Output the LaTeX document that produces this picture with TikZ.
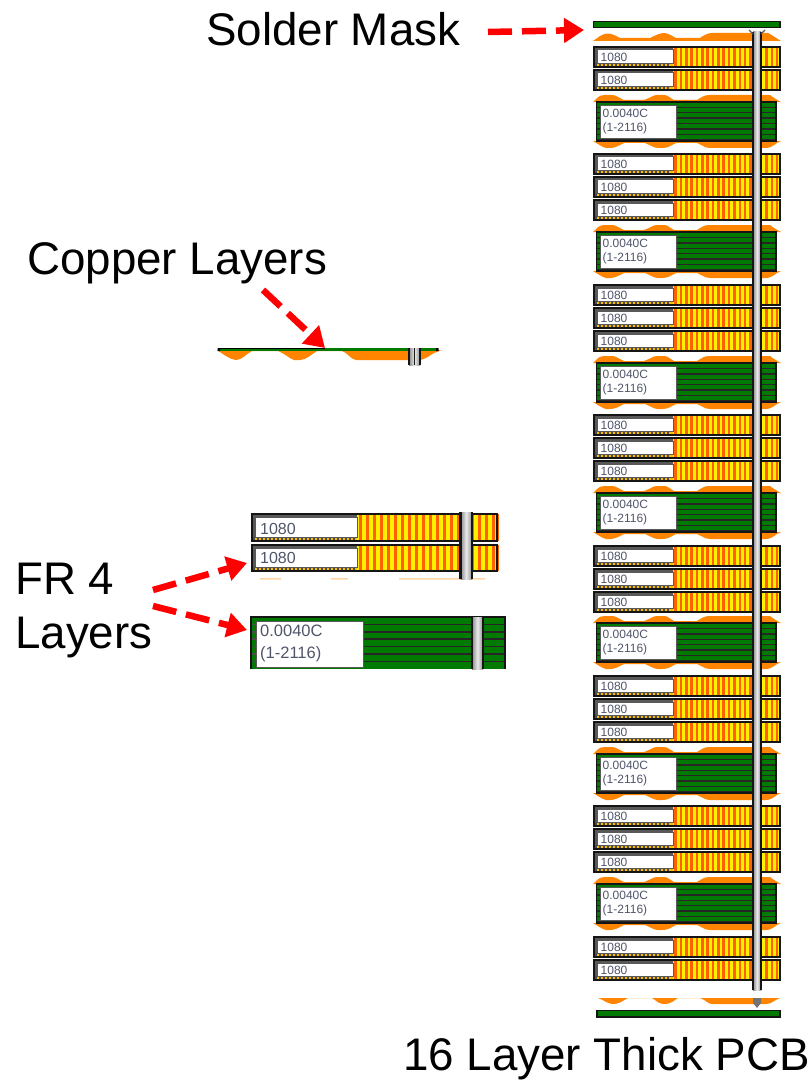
\documentclass[tikz,border=0pt]{standalone}
\usepackage{fontspec}
\setmainfont{Liberation Sans}
\usetikzlibrary{arrows.meta}
\definecolor{pcbgreen}{HTML}{007A00}
\definecolor{pcborange}{HTML}{FF8400}
\definecolor{pcbstripe}{HTML}{FF6000}
\definecolor{pcbyellow}{HTML}{FFF000}
\definecolor{pcbtext}{HTML}{50566A}
\definecolor{pcbedge}{HTML}{151515}
\tikzset{
  bigtext/.style={font=\fontsize{45.7}{54}\selectfont,text=black,inner sep=0pt,anchor=west},
  redarrow/.style={draw=red,line width=6.5pt,dash pattern=on 24pt off 10pt,-{Triangle[length=20pt,width=24pt,fill=red]}},
  boxedge/.style={draw=pcbedge,line width=1.4pt},
  labelbox/.style={draw=black!65,line width=.7pt,fill=white,inner sep=0pt,anchor=north west},
  smalltext/.style={font=\fontsize{12}{14}\selectfont,text=pcbtext,inner sep=0pt,anchor=west,align=left},
  midtext/.style={font=\fontsize{16.5}{21}\selectfont,text=pcbtext,inner sep=0pt,anchor=west,align=left},
}
% \prepreg{name}{x0}{y0}{x1}{y1}{box right}{box bottom}{stripe pitch}{stripe width}
\newcommand{\prepreg}[9]{%
  \fill[pcbyellow] (#2,#3) rectangle (#4,#5);
  \pgfmathsetmacro{\stripenext}{#6+#8}
  \foreach \sx in {#6,\stripenext,...,#4}{\fill[pcbstripe] (\sx+#8*.25,#3) rectangle ({min(\sx+#8*.25+#9,#4)},#5);}
  \fill[black!65] (#2,#3) rectangle (#6,#5);
  \fill[pcbyellow!55!orange] (#2+1,#7) rectangle (#6,#5-1);
  \foreach \sx in {0,4,...,108}{\pgfmathparse{(#2+\sx<#6-3)?1:0}\ifdim\pgfmathresult pt>0pt \fill[black!70] (#2+1+\sx,#7) rectangle (#2+3.4+\sx,#5-1);\fi}
  \node[labelbox,minimum width=#6-#2-2.5pt,minimum height=#7-#3-2.5pt] (#1box) at (#2+2.5,#3+2.5) {};
  \draw[boxedge] (#2,#3) rectangle (#4,#5);
}
% \core{name}{x0}{y0}{x1}{y1}{box left}{box right}{margin}{pitch}
\newcommand{\core}[9]{%
  \fill[pcbgreen] (#2,#3) rectangle (#4,#5);
  \foreach \ly in {1,...,9}{\pgfmathparse{(#3+\ly*#9<#5-1)?1:0}\ifdim\pgfmathresult pt>0pt \fill[black!85] (#2,#3+\ly*#9-.7) rectangle (#4,#3+\ly*#9+.7);\fi}
  \node[labelbox,minimum width=#7-#6,minimum height=#5-#3-2*#8] (#1box) at (#6,#3+#8) {};
  \draw[boxedge] (#2,#3) rectangle (#4,#5);
}
% copper mounds on the right-hand stack
\newcommand{\moundup}[1]{%
  \fill[pcborange] (593,#1+7) -- (597,#1+3) .. controls (600,#1+.5) and (602,#1) .. (605,#1) -- (612,#1) .. controls (616,#1) and (619,#1+3) .. (624,#1+5) -- (644,#1+5) .. controls (650,#1+3) and (653,#1) .. (657,#1) -- (664,#1) .. controls (668,#1) and (670,#1+3) .. (674,#1+5) -- (697,#1+5) .. controls (702,#1+2) and (704,#1) .. (710,#1) -- (770,#1) .. controls (774,#1+3) and (777,#1+5) .. (781,#1+7) -- cycle;}
\newcommand{\mounddown}[1]{%
  \fill[pcborange] (593,#1) -- (781,#1) -- (777,#1+2) .. controls (773,#1+5) and (770,#1+7) .. (766,#1+7) -- (710,#1+7) .. controls (705,#1+7) and (702,#1+4) .. (697,#1+2) -- (676,#1+2) .. controls (670,#1+5) and (668,#1+7) .. (662,#1+7) -- (658,#1+7) .. controls (654,#1+7) and (650,#1+4) .. (645,#1+2) -- (624,#1+2) .. controls (618,#1+5) and (615,#1+7) .. (610,#1+7) -- (606,#1+7) .. controls (602,#1+6) and (598,#1+3) .. (593,#1) -- cycle;}
% \via{x0}{x1}{y0}{y1}
\newcommand{\via}[4]{%
  \shade[left color=black!45,right color=black!45,middle color=black!8] (#1,#3) rectangle (#2,#4);
  \draw[pcbedge,line width=2.4pt] (#1,#3) -- (#1,#4) (#2,#3) -- (#2,#4);
}
\begin{document}
\begin{tikzpicture}[x=1pt,y=-1pt]
\useasboundingbox (0,0) rectangle (811,1086);
\fill[white] (0,0) rectangle (811,1086);

% ---- right-hand stack ----
\draw[draw=pcbedge,line width=1.5pt,fill=pcbgreen] (593.5,21.5) rectangle (780,27.5);
\coordinate (masktop) at (584,30);
\fill[pcborange] (593,41) -- (600,36) .. controls (605,33) and (610,33) .. (614,35) -- (620,38) -- (650,38) .. controls (656,35) and (660,33) .. (664,33) .. controls (668,33) and (672,36) .. (676,38) -- (700,38) .. controls (704,35) and (708,33) .. (712,33) -- (768,33) .. controls (772,35) and (776,38) .. (781,41) -- cycle;

\foreach \n/\py in {a/47,b/70,c/154,d/177,e/200,f/285,g/308,h/331,i/415,j/438,k/461,l/546,m/569,n/592,o/676,p/699,q/722,r/806,s/829,t/852,u/937,v/960}{
  \prepreg{\n}{594}{\py}{780}{\py+20}{673}{\py+16}{5.35}{2.5}
  \node[smalltext] (\n text) at (600.5,\py+10.5) {1080};
}
\foreach \n/\cy in {A/102,B/232,C/363,D/493,E/623,F/754,G/884}{
  \moundup{\cy-7}
  \mounddown{\cy+39}
  \core{\n}{596.5}{\cy}{776}{\cy+39}{600}{676}{3}{5.4}
  \node[smalltext,align=left] (\n text) at (602.5,\cy+19.5) {0.0040C\\[.5pt](1-2116)};
}
% lower copper and mask
\fill[pcborange] (598,998) -- (780,998) .. controls (774,1000) and (772,1004) .. (766,1004) -- (712,1004) .. controls (708,1004) and (706,1000) .. (700,998) -- (678,998) .. controls (674,1000) and (672,1004) .. (664,1004) .. controls (658,1004) and (656,1000) .. (652,998) -- (628,998) .. controls (622,1001) and (620,1004) .. (612,1004) .. controls (606,1003) and (604,1000) .. (598,998) -- cycle;
\draw[draw=pcbedge,line width=1.5pt,fill=pcbgreen] (597,1010.5) rectangle (780,1017);

% via through the right-hand stack
\via{753}{761}{32}{990}
\draw[pcbedge!70,line width=1.2pt] (749,30) -- (753,34) (765,30) -- (761,34);
\fill[black!55] (753,998) -- (761,998) -- (761,1003) -- (757,1008) -- (753,1003) -- cycle;

% ---- detail: copper layer ----
\fill[pcborange] (217,350) -- (442,350) -- (434,353) -- (426,358) .. controls (423,360) and (420,360) .. (416,360) -- (356,360) .. controls (350,359) and (348,353) .. (342,351) -- (317,351) .. controls (312,354) and (306,360) .. (300,360) -- (294,360) .. controls (290,359) and (284,353) .. (278,351) -- (252,351) .. controls (246,354) and (242,360) .. (236,360) .. controls (228,359) and (222,353) .. (217,350) -- cycle;
\fill[pcbgreen] (218,348) rectangle (438,351);
\draw[black,line width=1pt] (218,348) -- (325,348);
\fill[black] (217.5,348) rectangle (220,351) (436,348) rectangle (438.5,351);
\via{409}{420}{348}{365}
\fill[black!90] (413.5,348) rectangle (415,365);

% ---- detail: FR4 prepreg ----
\prepreg{w}{252}{514}{497}{541}{357}{537}{7}{3.3}
\prepreg{x}{252}{545}{497}{571}{357}{567}{7}{3.3}
\node[midtext,font=\fontsize{16}{20}\selectfont] (wtext) at (260,528.5) {1080};
\node[midtext,font=\fontsize{16}{20}\selectfont] (xtext) at (260,557.5) {1080};
\fill[pcborange!35] (260,578) rectangle (281,579.5) (331,578) rectangle (348,579.5) (399,578) rectangle (485,579.5);
\via{460.5}{472}{512}{579}

% ---- detail: core ----
\fill[pcbgreen] (251,617) rectangle (505,669);
\foreach \k in {1,...,6}{\fill[black!85] (363,617+\k*7.4-.8) rectangle (505,617+\k*7.4+.8);}
\foreach \k in {1,...,6}{\fill[black!70] (252,617+\k*7.4-.8) rectangle (256,617+\k*7.4+.8);}
\draw[pcbedge,line width=1.6pt] (251,669) -- (251,617) -- (505,617) -- (505,669);
\node[labelbox,minimum width=107pt,minimum height=46pt] (ybox) at (256,621) {};
\node[midtext,font=\fontsize{16.5}{21.5}\selectfont] (ytext) at (260,643.5) {0.0040C\\(1-2116)};
\via{472}{483}{617}{669}

% ---- labels and arrows ----
\node[bigtext] (solderlabel) at (206,29.5) {Solder Mask};
\node[bigtext] (copperlabel) at (27,263) {Copper Layers};
\node[bigtext,align=left] (frlabel) at (15,611) {FR 4\\Layers};
\node[bigtext] (pcblabel) at (403,1059) {16 Layer Thick PCB};

\coordinate (soldertail) at (488,32);
\coordinate (coppertail) at (263,290);
\coordinate (coppertip) at (325,348);
\coordinate (frtail) at (153,590);
\coordinate (frtailb) at (153,606);
\coordinate (frtip) at (247,563);
\coordinate (frtipb) at (247,630);
\draw[redarrow] (soldertail) -- (masktop);
\draw[redarrow] (coppertail) -- (coppertip);
\draw[redarrow] (frtail) -- (frtip);
\draw[redarrow] (frtailb) -- (frtipb);
\end{tikzpicture}
\end{document}
